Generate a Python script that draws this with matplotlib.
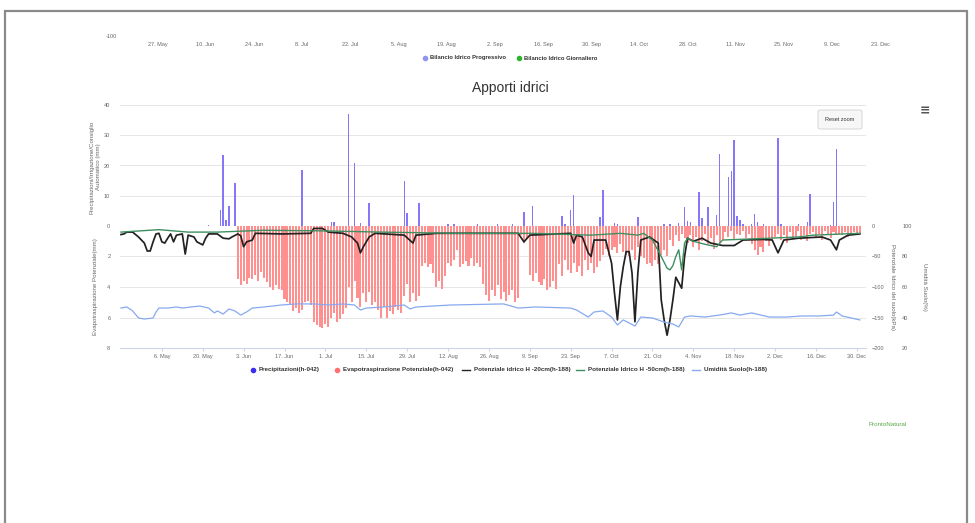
import pandas as pd
import matplotlib.pyplot as plt
from matplotlib.lines import Line2D
from matplotlib.patches import Rectangle, FancyBboxPatch

plt.rcParams['font.family'] = ['Liberation Sans', 'DejaVu Sans']

W, H = 975, 523

# Precipitazioni (mm)
prec_dates = ['2024-05-22', '2024-05-26', '2024-05-27', '2024-05-28', '2024-05-29', '2024-05-31',
              '2024-06-23', '2024-07-03', '2024-07-04', '2024-07-09', '2024-07-11', '2024-07-13', '2024-07-16',
              '2024-07-28', '2024-07-29', '2024-08-02', '2024-08-12', '2024-08-14', '2024-08-22', '2024-08-29',
              '2024-09-03', '2024-09-07', '2024-09-10', '2024-09-20', '2024-09-21', '2024-09-23', '2024-09-24',
              '2024-10-03', '2024-10-04', '2024-10-08', '2024-10-09', '2024-10-16', '2024-10-25', '2024-10-27',
              '2024-10-30', '2024-11-01', '2024-11-02', '2024-11-03', '2024-11-06', '2024-11-07', '2024-11-09',
              '2024-11-12', '2024-11-13', '2024-11-16', '2024-11-17', '2024-11-18', '2024-11-19', '2024-11-20',
              '2024-11-21', '2024-11-24', '2024-11-25', '2024-11-26', '2024-11-28', '2024-12-03', '2024-12-04',
              '2024-12-10', '2024-12-13', '2024-12-14', '2024-12-21', '2024-12-22', '2024-12-23']
prec_vals = [0.4, 5.3, 23.4, 2.0, 6.6, 14.1,
             18.4, 1.3, 1.3, 37.0, 20.7, 1.0, 7.5,
             14.8, 4.2, 7.6, 0.5, 0.6, 0.6, 0.7,
             0.5, 4.5, 6.6, 3.3, 0.5, 5.3, 10.2,
             3.0, 11.8, 1.0, 0.6, 2.9, 0.8, 0.5,
             0.9, 6.2, 1.6, 1.3, 11.2, 2.6, 6.3,
             3.6, 23.7, 16.2, 18.1, 28.3, 3.3, 1.9,
             0.5, 0.5, 3.9, 1.3, 0.7, 29.0, 0.5,
             0.7, 1.3, 10.5, 0.4, 7.9, 25.3]

# Evapotraspirazione potenziale (mm), giornaliera dal 1 giugno
et_start = '2024-06-01'
et_vals = [3.5, 3.9, 3.6, 3.8, 3.4, 3.5, 3.2, 3.6, 3.0, 3.4, 3.7,
           4.0, 4.2, 3.9, 4.1, 4.2, 4.8, 5.0, 5.1, 5.6, 5.4, 5.7, 5.5,
           5.0, 4.9, 5.2, 6.3, 6.5, 6.6, 6.7, 6.4, 6.6, 6.0, 5.7, 6.3, 6.1, 5.8, 5.4,
           4.0, 5.0, 3.6, 4.7, 5.3, 4.4, 5.0, 4.3, 5.2, 5.0, 5.5, 6.0, 5.3, 6.0,
           5.6, 5.8, 5.3, 5.5, 5.7, 4.6, 3.8, 5.0, 4.4, 4.9, 4.6, 2.6, 2.4, 2.7, 2.5,
           3.1, 4.0, 3.6, 4.1, 3.3, 2.4, 2.6, 2.2, 1.6, 2.7, 2.5, 2.3, 2.6, 2.1, 2.6, 2.4, 2.7,
           3.8, 4.5, 4.9, 4.2, 4.6, 3.9, 4.8, 4.3, 4.9, 4.5, 4.2, 5.0, 4.7, 0.6, 1.1, 0.8,
           3.2, 3.6, 3.1, 3.7, 3.9, 3.5, 4.2, 4.0, 3.6, 4.1, 2.5, 3.3, 2.2, 2.9, 3.1, 2.4,
           3.0, 2.6, 3.3, 2.2, 2.9, 2.4, 3.1, 2.7, 2.3, 1.9, 1.5, 2.0, 1.6, 1.4, 1.8, 1.2, 1.7, 1.9,
           2.0, 1.6, 2.2, 1.4, 2.0, 2.1, 2.5, 2.4, 2.6, 2.2, 2.5, 1.9, 1.6, 2.0, 0.9, 1.3, 0.6,
           1.0, 0.5, 0.8, 1.1, 0.6, 1.4, 0.7, 1.6, 1.0, 0.5, 1.2, 0.8, 1.5, 0.6, 1.1, 0.9,
           0.4, 0.7, 0.3, 0.9, 0.5, 0.6, 0.3, 0.8, 0.5, 1.2, 1.6, 1.9, 1.4, 1.7, 1.0, 1.3, 0.9, 0.7,
           0.5, 0.9, 0.6, 1.1, 0.4, 0.8, 0.7, 0.3, 0.9, 0.6, 1.0, 0.5,
           0.4, 0.7, 0.5, 0.9, 0.3, 0.6, 0.8, 0.4, 0.6, 0.5, 0.6, 0.4, 0.7, 0.5, 0.4, 0.6, 0.5]

# Potenziale idrico H -20cm (kPa)
p20_dates = ['2024-04-22', '2024-04-23', '2024-04-24', '2024-04-26', '2024-04-28', '2024-04-30', '2024-05-01',
             '2024-05-02', '2024-05-03', '2024-05-04', '2024-05-05', '2024-05-06', '2024-05-07', '2024-05-08',
             '2024-05-09', '2024-05-10', '2024-05-11', '2024-05-13', '2024-05-14', '2024-05-15', '2024-05-17',
             '2024-05-18', '2024-05-20', '2024-05-21', '2024-05-22', '2024-05-25', '2024-05-27', '2024-05-29',
             '2024-05-30', '2024-06-01', '2024-06-02', '2024-06-03', '2024-06-04', '2024-06-06', '2024-06-07',
             '2024-06-16', '2024-06-26', '2024-06-27', '2024-06-30', '2024-07-02', '2024-07-07', '2024-07-10',
             '2024-07-12', '2024-07-13', '2024-07-14', '2024-07-16', '2024-07-18', '2024-07-28', '2024-07-31',
             '2024-08-01', '2024-08-08', '2024-09-05', '2024-09-07', '2024-09-09', '2024-09-23', '2024-09-24',
             '2024-09-25', '2024-09-27', '2024-09-29', '2024-09-30', '2024-10-01', '2024-10-05', '2024-10-07',
             '2024-10-08', '2024-10-09', '2024-10-10', '2024-10-11', '2024-10-12', '2024-10-13', '2024-10-14',
             '2024-10-15', '2024-10-16', '2024-10-17', '2024-10-20', '2024-10-23', '2024-10-24', '2024-10-25',
             '2024-10-26', '2024-10-27', '2024-10-28', '2024-10-29', '2024-10-30', '2024-10-31', '2024-11-01',
             '2024-11-02', '2024-11-04', '2024-11-07', '2024-11-10', '2024-11-14', '2024-11-18', '2024-11-21',
             '2024-11-28', '2024-12-01', '2024-12-03', '2024-12-05', '2024-12-10', '2024-12-18', '2024-12-21',
             '2024-12-23', '2024-12-24', '2024-12-27', '2024-12-31']
p20_vals = [-14, -13, -10, -10, -18, -28, -41,
            -41, -26, -13, -12, -26, -28, -20,
            -13, -26, -15, -13, -46, -15, -18,
            -26, -31, -20, -13, -13, -20, -21,
            -18, -13, -16, -34, -26, -23, -12,
            -13, -12, -4, -4, -10, -12, -18,
            -28, -44, -34, -18, -12, -15, -28,
            -15, -12, -12, -26, -15, -12, -28,
            -15, -18, -44, -50, -23, -23, -61,
            -110, -154, -100, -67, -42, -42, -77,
            -157, -77, -23, -18, -28, -121, -154,
            -179, -154, -121, -84, -93, -102, -50,
            -20, -25, -20, -28, -32, -32, -23,
            -22, -23, -44, -23, -20, -18, -23,
            -39, -23, -15, -13]

# Potenziale idrico H -50cm (kPa)
p50_dates = ['2024-04-22', '2024-05-05', '2024-05-15', '2024-05-25', '2024-06-10', '2024-06-30', '2024-07-20',
             '2024-08-15', '2024-09-10', '2024-09-30', '2024-10-10', '2024-10-16', '2024-10-18', '2024-10-21',
             '2024-10-24', '2024-10-26', '2024-10-27', '2024-10-28', '2024-10-29', '2024-10-30', '2024-10-31',
             '2024-11-01', '2024-11-02', '2024-11-04', '2024-11-08', '2024-11-12', '2024-11-14', '2024-11-30',
             '2024-12-10', '2024-12-15', '2024-12-31']
p50_vals = [-10, -6, -10, -10, -7, -8, -10,
            -12, -12, -15, -12, -15, -12, -23,
            -50, -69, -72, -65, -50, -39, -72,
            -28, -20, -25, -30, -34, -23, -20,
            -18, -15, -12]

# Umidità suolo (%)
um_dates = ['2024-04-22', '2024-04-24', '2024-04-26', '2024-04-28', '2024-04-30', '2024-05-03', '2024-05-04',
            '2024-05-05', '2024-05-08', '2024-05-11', '2024-05-13', '2024-05-16', '2024-05-19', '2024-05-22',
            '2024-05-24', '2024-05-25', '2024-05-27', '2024-05-29', '2024-05-31', '2024-06-02', '2024-06-04',
            '2024-06-06', '2024-06-10', '2024-06-16', '2024-06-21', '2024-06-27', '2024-07-02', '2024-07-07',
            '2024-07-11', '2024-07-13', '2024-07-15', '2024-07-21', '2024-07-28', '2024-07-30', '2024-08-01',
            '2024-08-13', '2024-08-31', '2024-09-05', '2024-09-11', '2024-09-23', '2024-09-25', '2024-09-29',
            '2024-10-01', '2024-10-04', '2024-10-07', '2024-10-09', '2024-10-11', '2024-10-13', '2024-10-15',
            '2024-10-17', '2024-10-21', '2024-10-25', '2024-10-28', '2024-10-30', '2024-11-01', '2024-11-03',
            '2024-11-08', '2024-11-13', '2024-11-17', '2024-11-20', '2024-11-24', '2024-11-30', '2024-12-06',
            '2024-12-11', '2024-12-17', '2024-12-22', '2024-12-23', '2024-12-25', '2024-12-31']
um_vals = [46.2, 46.9, 44.3, 39.7, 39.0, 39.7, 43.6,
           46.2, 46.2, 46.9, 46.2, 46.9, 47.5, 46.2,
           43.0, 44.3, 42.3, 45.6, 44.3, 41.6, 43.6,
           46.2, 46.9, 48.2, 48.9, 48.9, 48.2, 48.9,
           48.2, 44.9, 46.2, 46.9, 48.2, 45.6, 46.9,
           48.2, 48.9, 46.2, 46.9, 46.2, 44.9, 40.3,
           43.6, 44.3, 40.3, 35.1, 38.4, 36.4, 34.4,
           40.3, 39.7, 37.0, 35.7, 33.8, 40.3, 41.0,
           40.3, 41.6, 43.0, 41.6, 43.0, 40.3, 40.3,
           41.0, 41.0, 41.6, 43.6, 41.0, 38.4]

# Etichette asse x
tick_dates = ['2024-05-06', '2024-05-20', '2024-06-03', '2024-06-17', '2024-07-01', '2024-07-15',
              '2024-07-29', '2024-08-12', '2024-08-26', '2024-09-09', '2024-09-23', '2024-10-07',
              '2024-10-21', '2024-11-04', '2024-11-18', '2024-12-02', '2024-12-16', '2024-12-30']
tick_labels = ['6. May', '20. May', '3. Jun', '17. Jun', '1. Jul', '15. Jul', '29. Jul', '12. Aug',
               '26. Aug', '9. Sep', '23. Sep', '7. Oct', '21. Oct', '4. Nov', '18. Nov', '2. Dec',
               '16. Dec', '30. Dec']
top_tick_dates = ['2024-05-27', '2024-06-10', '2024-06-24', '2024-07-08', '2024-07-22', '2024-08-05',
                  '2024-08-19', '2024-09-02', '2024-09-16', '2024-09-30', '2024-10-14', '2024-10-28',
                  '2024-11-11', '2024-11-25', '2024-12-09', '2024-12-23']
top_tick_labels = ['27. May', '10. Jun', '24. Jun', '8. Jul', '22. Jul', '5. Aug', '19. Aug', '2. Sep',
                   '16. Sep', '30. Sep', '14. Oct', '28. Oct', '11. Nov', '25. Nov', '9. Dec', '23. Dec']

C_PREC = '#8577f7'
C_ET = '#ff9090'
C_P20 = '#222222'
C_P50 = '#3d8f60'
C_UM = '#86a9f0'
C_TXT = '#666666'
C_GRID = '#e6e6e6'
FS = 4.0
FS_TIT = 4.4


def fx(x):
    return x / W


def fy(y):
    return 1 - y / H


def box(l, t, r, b):
    return [l / W, 1 - b / H, (r - l) / W, (b - t) / H]


fig = plt.figure(figsize=(W / 100, H / 100), dpi=100)
fig.patch.set_facecolor('white')

# cornice dello screenshot
fig.add_artist(Rectangle((fx(5), fy(530)), fx(962), fy(11) - fy(530), transform=fig.transFigure,
                         fill=False, edgecolor='#8a8a8a', lw=1.6))

# grafico superiore (tagliato)
ax_t = fig.add_axes(box(123, 10, 932, 36))
ax_t.set_facecolor('none')
ax_t.set_xlim(pd.Timestamp('2024-05-17'), pd.Timestamp('2025-01-07'))
ax_t.set_ylim(-100, 0)
ax_t.set_yticks([-100])
ax_t.set_yticklabels(['-100'])
ax_t.set_xticks(pd.to_datetime(top_tick_dates))
ax_t.set_xticklabels(top_tick_labels)
ax_t.tick_params(axis='both', length=0, labelsize=FS, colors=C_TXT, pad=4)
for s in ax_t.spines.values():
    s.set_visible(False)
ax_t.axhline(-100, color=C_GRID, lw=0.8)

# legenda superiore
for xc, col, lab in [(425, '#8f95ee', 'Bilancio Idrico Progressivo'),
                     (519, '#2db52d', 'Bilancio Idrico Giornaliero')]:
    fig.add_artist(Line2D([fx(xc)], [fy(58)], marker='o', ms=3.0, color=col, transform=fig.transFigure))
    fig.text(fx(xc + 5), fy(58), lab, fontsize=4.2, fontweight='bold', color='#333333', va='center')

fig.text(fx(510), fy(88), 'Apporti idrici', fontsize=10, color='#333333', ha='center', va='center')

# assi principali
ax_p = fig.add_axes(box(120, 105, 866, 226))
ax_e = fig.add_axes(box(120, 226, 866, 348), sharex=ax_p)
ax_k = ax_e.twinx()
ax_h = ax_e.twinx()

for a in (ax_p, ax_e, ax_k, ax_h):
    a.set_facecolor('none')
    for s in a.spines.values():
        s.set_visible(False)

ax_p.bar(pd.to_datetime(prec_dates), prec_vals, width=0.5, color=C_PREC, zorder=3)
et_dates = pd.date_range(et_start, periods=len(et_vals), freq='D')
ax_e.bar(et_dates, et_vals, width=0.7, color=C_ET, zorder=3)

ax_k.plot(pd.to_datetime(p20_dates), p20_vals, color=C_P20, lw=1.25, solid_joinstyle='round', clip_on=False)
ax_k.plot(pd.to_datetime(p50_dates), p50_vals, color=C_P50, lw=1.0, solid_joinstyle='round', clip_on=False)
ax_h.plot(pd.to_datetime(um_dates), um_vals, color=C_UM, lw=0.9, solid_joinstyle='round')

ax_p.set_xlim(pd.Timestamp('2024-04-21 16:00'), pd.Timestamp('2025-01-02 03:00'))
ax_p.set_ylim(0, 40)
ax_p.set_yticks([0, 10, 20, 30, 40])
ax_p.grid(axis='y', color=C_GRID, lw=0.7)
ax_p.tick_params(axis='x', bottom=False, labelbottom=False)

ax_e.set_ylim(8, 0)
ax_e.set_yticks([2, 4, 6, 8])
ax_e.grid(axis='y', color=C_GRID, lw=0.7)
ax_e.spines['bottom'].set_visible(True)
ax_e.spines['bottom'].set_color('#ccd6eb')
ax_e.spines['bottom'].set_linewidth(0.8)
ax_e.set_xticks(pd.to_datetime(tick_dates))
ax_e.set_xticklabels(tick_labels)

for a in (ax_p, ax_e):
    a.tick_params(axis='y', length=0, labelsize=FS, colors=C_TXT, pad=7)
ax_e.tick_params(axis='x', length=2, color='#ccd6eb', labelsize=FS, labelcolor=C_TXT, pad=2)

ax_k.set_ylim(-200, 0)
ax_k.set_yticks([0, -50, -100, -150, -200])
ax_k.tick_params(axis='y', length=0, labelsize=FS, colors=C_TXT, pad=4)
ax_h.set_ylim(20, 100)
ax_h.set_yticks([100, 80, 60, 40, 20])
ax_h.spines['right'].set_position(('outward', 26))
ax_h.tick_params(axis='y', length=0, labelsize=FS, colors=C_TXT, pad=0)

# titoli assi
fig.text(fx(95), fy(167), 'Precipitazioni/Irrigazione/Consiglio\nAutomatico (mm)', rotation=90,
         fontsize=FS_TIT, color=C_TXT, ha='center', va='center', linespacing=1.3)
fig.text(fx(96), fy(287), 'Evapotraspirazione Potenziale(mm)', rotation=90,
         fontsize=FS_TIT, color=C_TXT, ha='center', va='center')
fig.text(fx(892), fy(287), 'Potenziale Idrico del suolo(kPa)', rotation=270,
         fontsize=FS_TIT, color=C_TXT, ha='center', va='center')
fig.text(fx(925), fy(287), 'Umidità Suolo(%)', rotation=270,
         fontsize=FS_TIT, color=C_TXT, ha='center', va='center')

# pulsante e menu
fig.add_artist(FancyBboxPatch((fx(818), fy(129)), fx(44), fy(110) - fy(129),
                              boxstyle='round,pad=0,rounding_size=0.003',
                              transform=fig.transFigure, facecolor='#f7f7f7', edgecolor='#d0d0d0', lw=0.6))
fig.text(fx(840), fy(119.5), 'Reset zoom', fontsize=FS, color='#333333', ha='center', va='center')
fig.text(fx(925), fy(111), '≡', fontsize=9, color='#555555', ha='center', va='center', fontweight='bold',
         family='DejaVu Sans')

# legenda inferiore
leg = [(253, 'o', '#3b2ff0', 'Precipitazioni(h-042)'),
       (337, 'o', '#ff7070', 'Evapotraspirazione Potenziale(h-042)'),
       (466, '-', C_P20, 'Potenziale idrico H -20cm(h-188)'),
       (580, '-', C_P50, 'Potenziale Idrico H -50cm(h-188)'),
       (696, '-', C_UM, 'Umidità Suolo(h-188)')]
for xc, kind, col, lab in leg:
    if kind == 'o':
        fig.add_artist(Line2D([fx(xc)], [fy(370)], marker='o', ms=3.0, color=col, transform=fig.transFigure))
        tx = xc + 6
    else:
        fig.add_artist(Line2D([fx(xc - 4), fx(xc + 4)], [fy(370), fy(370)], color=col, lw=1.0,
                              transform=fig.transFigure))
        tx = xc + 8
    fig.text(fx(tx), fy(370), lab, fontsize=4.5, fontweight='bold', color='#333333', va='center')

fig.text(fx(888), fy(424), 'ProntoNatural', fontsize=4.5, color='#5aa84a', ha='center', va='center')

fig.savefig('out.png', dpi=100)
